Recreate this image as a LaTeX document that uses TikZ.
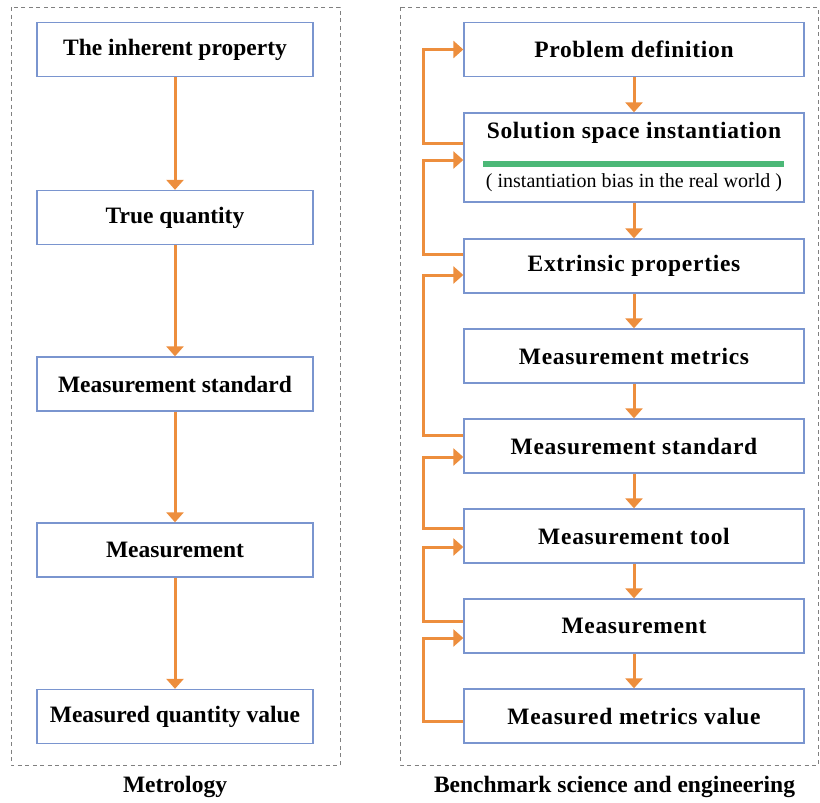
\documentclass[tikz,border=0pt]{standalone}
\usepackage{fontspec}
\setmainfont{Liberation Serif}
\usetikzlibrary{arrows.meta}

\definecolor{boxblue}{HTML}{7A95CF}
\definecolor{flowOrange}{HTML}{ED8E3D}
\definecolor{barGreen}{HTML}{4CB877}
\definecolor{panelGray}{HTML}{808080}

\begin{document}
\begin{tikzpicture}[x=1pt, y=-1pt,
    every node/.style={font=\fontsize{23.5}{28}\selectfont\bfseries},
    spaced/.style={font=\fontsize{23.5}{28}\selectfont\bfseries\addfontfeatures{LetterSpace=3}},
    stage/.style={draw=boxblue, line width=1.3pt, minimum width=340pt,
        minimum height=54pt, inner sep=0pt, spaced},
    lstage/.style={stage, minimum width=276pt,
        font=\fontsize{23.5}{28}\selectfont\bfseries},
    flow/.style={draw=flowOrange, line width=3pt,
        -{Triangle[width=17pt,length=10pt]}},
    panel/.style={draw=panelGray, line width=0.9pt, dash pattern=on 4pt off 3.5pt}]

    \useasboundingbox (0,0) rectangle (820,803);

    % dashed panels
    \draw[panel] (11,7) rectangle (340,765);
    \draw[panel] (400,7) rectangle (818,765);

    % metrology
    \node[lstage] (inh)   at (175,49.5)  {The inherent property};
    \node[lstage] (truq)  at (175,217.5) {True quantity};
    \node[lstage] (lstd)  at (175,384)   {Measurement standard};
    \node[lstage] (lmeas) at (175,550)   {Measurement};
    \node[lstage] (lval)  at (175,716.5) {Measured quantity value};

    \draw[flow] (inh.south) -- (truq.north);
    \draw[flow] (truq.south) -- (lstd.north);
    \draw[flow] (lstd.south) -- (lmeas.north);
    \draw[flow] (lmeas.south) -- (lval.north);

    % benchmark science and engineering
    \node[stage] (prob)  at (634,49.5)  {Problem definition};
    \node[stage, minimum height=89pt] (sol) at (634,157.5) {};
    \node[spaced] (soltitle) at (634,133) {Solution space instantiation};
    \node[font=\fontsize{20}{24}\selectfont] (solnote) at (634,183)
        {( instantiation bias in the real world )};
    \coordinate (barL) at (483,164);
    \coordinate (barR) at (784,164);
    \draw[barGreen, line width=6pt] (barL) -- (barR);
    \node[stage] (ext)   at (634,266) {Extrinsic properties};
    \node[stage] (mmet)  at (634,356) {Measurement metrics};
    \node[stage] (rstd)  at (634,446) {Measurement standard};
    \node[stage] (tool)  at (634,536) {Measurement tool};
    \node[stage] (rmeas) at (634,626) {Measurement};
    \node[stage] (rval)  at (634,716) {Measured metrics value};

    \draw[flow] (prob.south) -- (sol.north);
    \draw[flow] (sol.south) -- (ext.north);
    \draw[flow] (ext.south) -- (mmet.north);
    \draw[flow] (mmet.south) -- (rstd.north);
    \draw[flow] (rstd.south) -- (tool.north);
    \draw[flow] (tool.south) -- (rmeas.north);
    \draw[flow] (rmeas.south) -- (rval.north);

    % feedback loops
    \draw[flow] ([yshift=14.5pt]sol.west) -- ++(-40,0) |- (prob.west);
    \draw[flow] ([yshift=12pt]ext.west) -- ++(-40,0) |- ([yshift=-2.5pt]sol.west);
    \draw[flow] ([yshift=11pt]rstd.west) -- ++(-40,0) |- ([yshift=-9pt]ext.west);
    \draw[flow] ([yshift=8pt]tool.west) -- ++(-40,0) |- ([yshift=-11pt]rstd.west);
    \draw[flow] ([yshift=5pt]rmeas.west) -- ++(-40,0) |- ([yshift=-11pt]tool.west);
    \draw[flow] ([yshift=-5pt]rval.west) -- ++(-40,0) |- ([yshift=-12pt]rmeas.west);

    % captions
    \node (capL) at (175,787) {Metrology};
    \node (capR) at (614.5,787) {Benchmark science and engineering};
\end{tikzpicture}
\end{document}
